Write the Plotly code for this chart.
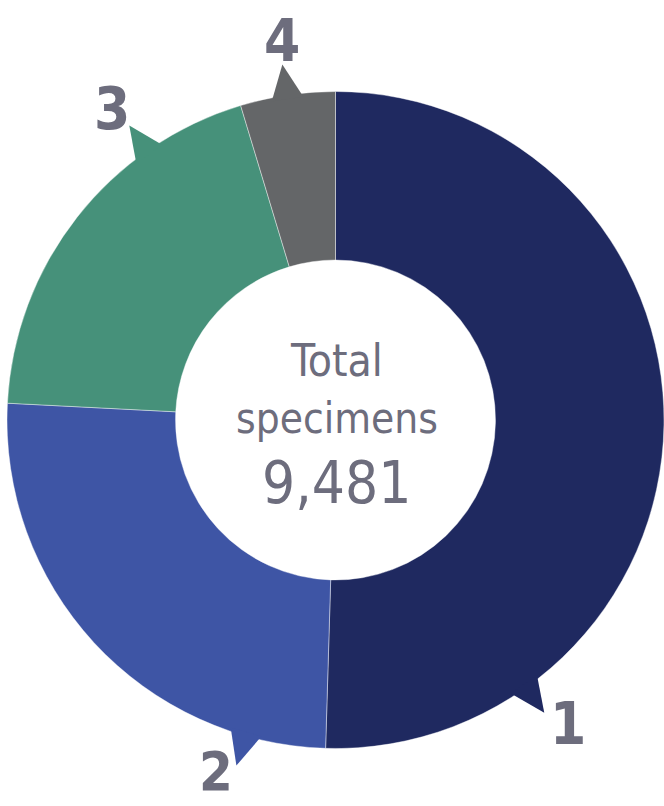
import math
import plotly.graph_objects as go

# ---- data ----
categories = ["1", "2", "3", "4"]
values = [4786, 2402, 1851, 442]
center_title = ["Total", "specimens"]
total_label = "9,481"

# ---- style / layout ----
colors = ["#1F2960", "#3E55A5", "#46917A", "#646668"]
text_color = "#6D6D7D"
W, H = 664, 806
CX, CY, R = 335.5, 420.0, 328.5  # pie centre / radius in pixels
HOLE = 0.487
arrow_angles = [144.5, 196.0, 325.0, 351.5]   # deg clockwise from 12 o'clock
label_angles = [142.6, 198.8, 324.3, 351.9]
label_radius = [383, 371, 383, 383]
label_size = [58, 54, 58, 58]
FONT = "DejaVu Sans Condensed, Liberation Sans Narrow, sans-serif"


def px2paper(x, y):
    return x / W, 1 - y / H


fig = go.Figure(
    go.Pie(
        labels=categories,
        values=values,
        hole=HOLE,
        sort=False,
        direction="clockwise",
        rotation=0,
        textinfo="none",
        hoverinfo="label+value+percent",
        marker=dict(colors=colors, line=dict(color="rgba(255,255,255,0.7)", width=0.6)),
        domain=dict(x=[(CX - R) / W, min(1, (CX + R) / W)],
                    y=[(H - CY - R) / H, (H - CY + R) / H]),
        showlegend=False,
    )
)

shapes = []
annotations = []
for i, ang in enumerate(arrow_angles):
    t = math.radians(ang)
    ux, uy = math.sin(t), -math.cos(t)
    tx, ty = math.cos(t), math.sin(t)
    b1 = (CX + (R - 4) * ux + 16 * tx, CY + (R - 4) * uy + 16 * ty)
    b2 = (CX + (R - 4) * ux - 16 * tx, CY + (R - 4) * uy - 16 * ty)
    tip = (CX + (R + 31) * ux, CY + (R + 31) * uy)
    pts = [px2paper(*p) for p in (b1, tip, b2)]
    path = "M {} {} L {} {} L {} {} Z".format(pts[0][0], pts[0][1], pts[1][0], pts[1][1], pts[2][0], pts[2][1])
    shapes.append(dict(type="path", path=path, xref="paper", yref="paper",
                       fillcolor=colors[i], line=dict(width=0), layer="above"))

    la = math.radians(label_angles[i])
    lx = CX + label_radius[i] * math.sin(la)
    ly = CY - label_radius[i] * math.cos(la)
    x, y = px2paper(lx, ly)
    annotations.append(dict(text="<b>" + categories[i] + "</b>", x=x, y=y, xref="paper", yref="paper",
                            xanchor="center", yanchor="middle", showarrow=False,
                            font=dict(family=FONT, size=label_size[i], color=text_color)))

# centre text
for txt, ypx, size in [(center_title[0], 360, 44), (center_title[1], 418, 42), (total_label, 483, 58)]:
    x, y = px2paper(CX + 1, ypx)
    annotations.append(dict(text=txt, x=x, y=y, xref="paper", yref="paper",
                            xanchor="center", yanchor="middle", showarrow=False,
                            font=dict(family=FONT, size=size, color=text_color)))

fig.update_layout(
    width=W, height=H,
    margin=dict(l=0, r=0, t=0, b=0),
    paper_bgcolor="white", plot_bgcolor="white",
    shapes=shapes, annotations=annotations,
)

fig.write_html("out.html", config={"displayModeBar": False},
               post_script="document.body.style.margin='0';document.body.style.overflow='hidden';")
